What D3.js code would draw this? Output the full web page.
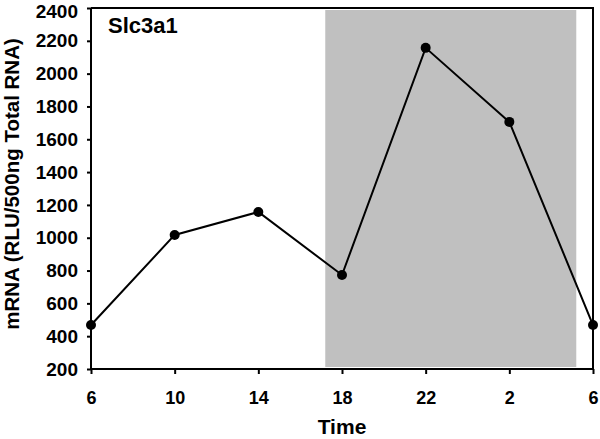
<!DOCTYPE html>
<html>
<head>
<meta charset="utf-8">
<script src="https://cdn.jsdelivr.net/npm/d3@7"></script>
<style>
  body { margin: 0; background: #fff; }
  svg text { font-family: "Liberation Sans", Arial, sans-serif; font-weight: bold; fill: #000; }
</style>
</head>
<body>
<div id="chart"></div>
<script>
// data
const timeLabels = ["6", "10", "14", "18", "22", "2", "6"];
const mrna = [468, 1017, 1157, 773, 2157, 1706, 468];
const yTicks = [200, 400, 600, 800, 1000, 1200, 1400, 1600, 1800, 2000, 2200, 2400];
const darkPeriod = [2.8, 5.8]; // in time-point index units

const width = 600, height = 439;
const margin = { top: 8, right: 7, bottom: 70, left: 91 };

const svg = d3.select("#chart").append("svg")
  .attr("width", width)
  .attr("height", height);

const x = d3.scaleLinear()
  .domain([0, timeLabels.length - 1])
  .range([margin.left, width - margin.right]);

const y = d3.scaleLinear()
  .domain([200, 2400])
  .range([height - margin.bottom, margin.top]);

// shaded dark phase
svg.append("rect")
  .attr("x", x(darkPeriod[0]))
  .attr("y", y(2400) + 2)
  .attr("width", x(darkPeriod[1]) - x(darkPeriod[0]))
  .attr("height", y(200) - y(2400) - 4)
  .attr("fill", "#c0c0c0");

// frame (top + right)
svg.append("path")
  .attr("d", `M${x(0)},${y(2400)}H${x(6)}V${y(200)}`)
  .attr("fill", "none")
  .attr("stroke", "#000")
  .attr("stroke-width", 2);

// axes
const xAxis = d3.axisBottom(x)
  .tickValues(d3.range(timeLabels.length))
  .tickFormat(i => timeLabels[i])
  .tickSize(5)
  .tickPadding(17);

const yAxis = d3.axisLeft(y)
  .tickValues(yTicks)
  .tickFormat(d3.format("d"))
  .tickSize(4)
  .tickPadding(9);

const gx = svg.append("g")
  .attr("transform", `translate(0,${y(200)})`)
  .call(xAxis);
const gy = svg.append("g")
  .attr("transform", `translate(${x(0)},0)`)
  .call(yAxis);

[gx, gy].forEach(g => {
  g.select(".domain").attr("stroke", "#000").attr("stroke-width", 2);
  g.selectAll(".tick line").attr("stroke", "#000").attr("stroke-width", 2);
  g.selectAll(".tick text").attr("font-size", 19).attr("fill", "#000");
});
gx.selectAll(".tick text").attr("font-size", 18);
// keep the top label inside the page
gy.selectAll(".tick text").filter(d => d === 2400).attr("y", 3);
gy.select(".domain").attr("d", `M0,${y(2400)}V${y(200)}`);
gx.select(".domain").attr("d", `M${x(0)},0H${x(6)}`);

// line + markers
const line = d3.line()
  .x((d, i) => x(i))
  .y(d => y(d));

svg.append("path")
  .datum(mrna)
  .attr("d", line)
  .attr("fill", "none")
  .attr("stroke", "#000")
  .attr("stroke-width", 2);

svg.selectAll(".pt")
  .data(mrna)
  .join("circle")
  .attr("class", "pt")
  .attr("cx", (d, i) => x(i))
  .attr("cy", d => y(d))
  .attr("r", 5)
  .attr("fill", "#000");

// title
svg.append("text")
  .attr("x", 108)
  .attr("y", 33)
  .attr("font-size", 22)
  .text("Slc3a1");

// axis titles
svg.append("text")
  .attr("transform", `translate(19,184) rotate(-90)`)
  .attr("text-anchor", "middle")
  .attr("font-size", 20.5)
  .text("mRNA (RLU/500ng Total RNA)");

svg.append("text")
  .attr("x", (x(0) + x(6)) / 2)
  .attr("y", 434)
  .attr("text-anchor", "middle")
  .attr("font-size", 21)
  .text("Time");
</script>
</body>
</html>
